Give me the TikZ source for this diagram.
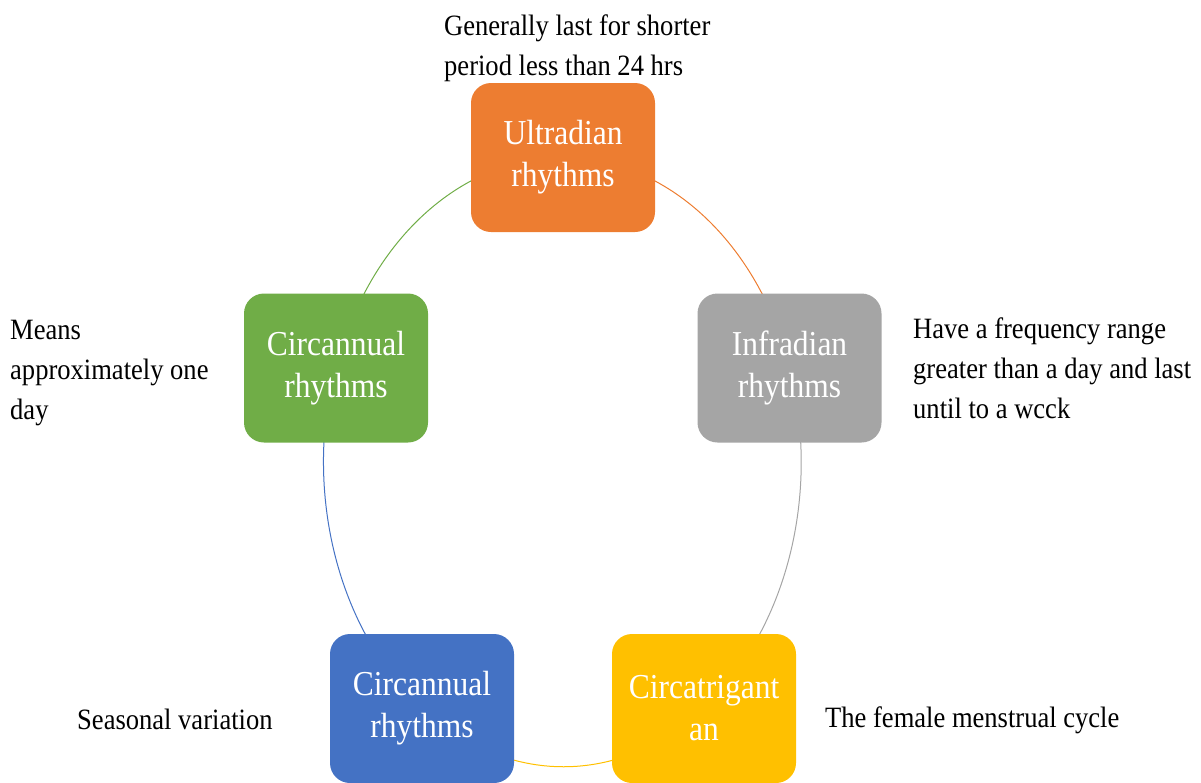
\documentclass[tikz,border=0pt]{standalone}
\usepackage{fontspec}
\setmainfont{Liberation Serif}[FakeStretch=0.9]
\usetikzlibrary{backgrounds}
\definecolor{RhythmOrange}{HTML}{ED7D31}
\definecolor{RhythmGray}{HTML}{A5A5A5}
\definecolor{RhythmYellow}{HTML}{FFC000}
\definecolor{RhythmBlue}{HTML}{4472C4}
\definecolor{RhythmGreen}{HTML}{70AD47}

\begin{document}
\begin{tikzpicture}[x=1pt, y=1pt,
    rhythmbox/.style={fill=#1, rounded corners=20pt, minimum width=184pt, minimum height=149pt,
        inner sep=0pt, align=center, text=white, font=\fontsize{35}{42}\selectfont},
    notetext/.style={anchor=base west, align=left, inner sep=0pt, font=\fontsize{29.5}{40}\selectfont},
    ring/.style={draw=#1, line width=1pt}]
    \useasboundingbox (0,0) rectangle (1201,-782);

    % Rhythm boxes, set on an ellipse
    \node[rhythmbox=RhythmOrange] (ultra) at (563,-157.5) {Ultradian\\rhythms};
    \node[rhythmbox=RhythmGray] (infra) at (789.5,-368) {Infradian\\rhythms};
    \node[rhythmbox=RhythmYellow] (trigint) at (704,-708.5) {Circatrigant\\an};
    \node[rhythmbox=RhythmBlue] (annualb) at (422,-708.5) {Circannual\\rhythms};
    \node[rhythmbox=RhythmGreen] (annualg) at (336,-368) {Circannual\\rhythms};

    % Ring segments from box to box
    \begin{scope}[on background layer, x radius=239, y radius=305]
        \foreach \src/\a/\b/\col in {ultra/90/18/RhythmOrange, infra/18/-54/RhythmGray,
                trigint/-54/-126/RhythmYellow, annualb/-126/-198/RhythmBlue, annualg/162/90/RhythmGreen} {
            \draw[ring=\col] (\src.center) arc[start angle=\a, end angle=\b];
        }
    \end{scope}

    % Notes beside the boxes (base = last line)
    \node[notetext] (ultranote) at (444,-75) {Generally last for shorter\\period less than 24 hrs};
    \node[notetext] (infranote) at (913,-418) {Have a frequency range\\greater than a day and last\\until to a wcck};
    \node[notetext] (annualgnote) at (10,-419) {Means\\approximately one\\day};
    \node[notetext] (annualbnote) at (77,-729) {Seasonal variation};
    \node[notetext] (trigintnote) at (825,-727) {The female menstrual cycle};
\end{tikzpicture}
\end{document}
